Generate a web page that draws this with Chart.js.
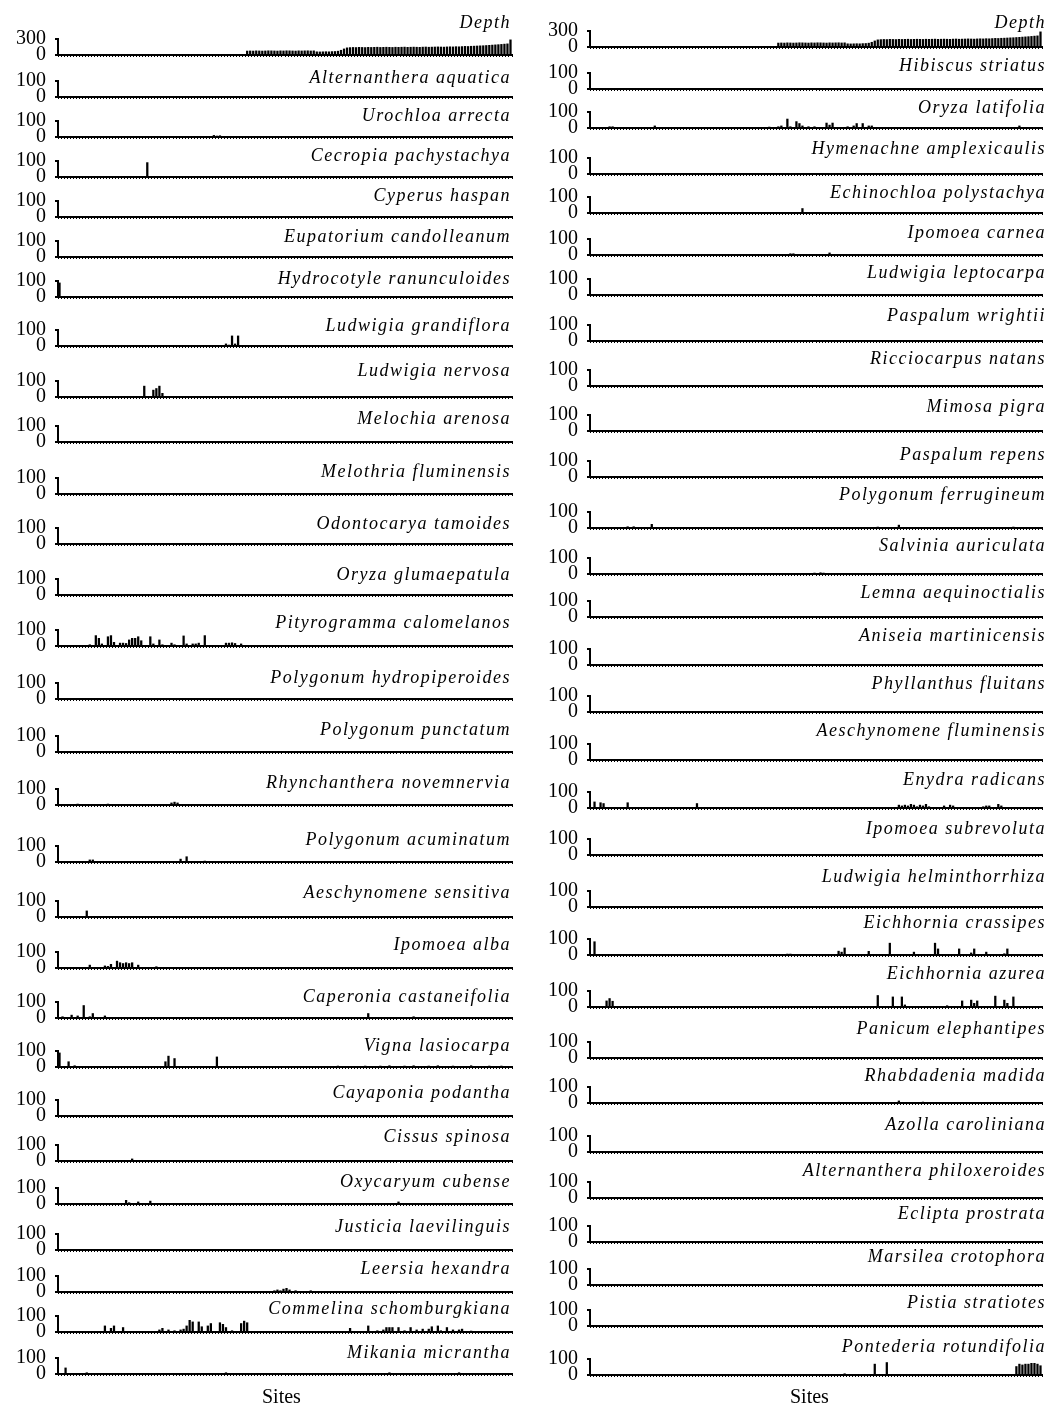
<!DOCTYPE html>
<html>
<head>
<meta charset="utf-8">
<script src="https://cdn.jsdelivr.net/npm/chart.js@4"></script>
<style>
  body { margin: 0; background: #fff; }
  #page { position: relative; width: 1052px; height: 1405px; overflow: hidden; background: #fff; }
  #page canvas { position: absolute; }
  .name { position: absolute; font-family: 'Liberation Serif', serif; font-style: italic; font-size: 18px;
          letter-spacing: 1.5px; line-height: 20px; white-space: nowrap; text-align: right; color: #000; }
  .sites { position: absolute; font-family: 'Liberation Serif', serif; font-size: 20px; line-height: 20px; color: #000; }
</style>
</head>
<body>
<div id="page"></div>
<script>
var nSites = 150;

// water depth (cm) at each site, sites ordered by depth
var depth = [
  0, 0, 0, 0, 0, 0, 0, 0, 0, 0, 0, 0, 0, 0, 0, 0, 0, 0, 0, 0,
  0, 0, 0, 0, 0, 0, 0, 0, 0, 0, 0, 0, 0, 0, 0, 0, 0, 0, 0, 0,
  0, 0, 0, 0, 0, 0, 0, 0, 0, 0, 0, 0, 0, 0, 0, 0, 0, 0, 0, 0,
  0, 0,
  80, 82, 80, 84, 82, 80, 82, 85, 84, 82, 80, 84, 82, 85, 84, 82, 80, 84, 82, 84, 85, 82, 84,
  66, 64, 66, 68, 66, 70, 72, 78,
  95, 120, 140,
  145, 148, 146, 150, 148, 146, 150, 148, 150, 152, 148, 150, 152, 150, 148, 152, 150, 152, 154, 150,
  152, 154, 152, 150, 154, 156, 152, 154, 156, 158, 156, 154, 158, 160, 158, 162, 160, 164, 168, 166,
  170, 172, 175, 178, 180, 184, 188, 192, 196, 200, 205, 210, 215,
  290
];

var leftSpecies = [
  'Alternanthera aquatica', 'Urochloa arrecta', 'Cecropia pachystachya', 'Cyperus haspan',
  'Eupatorium candolleanum', 'Hydrocotyle ranunculoides', 'Ludwigia grandiflora', 'Ludwigia nervosa',
  'Melochia arenosa', 'Melothria fluminensis', 'Odontocarya tamoides', 'Oryza glumaepatula',
  'Pityrogramma calomelanos', 'Polygonum hydropiperoides', 'Polygonum punctatum', 'Rhynchanthera novemnervia',
  'Polygonum acuminatum', 'Aeschynomene sensitiva', 'Ipomoea alba', 'Caperonia castaneifolia',
  'Vigna lasiocarpa', 'Cayaponia podantha', 'Cissus spinosa', 'Oxycaryum cubense',
  'Justicia laevilinguis', 'Leersia hexandra', 'Commelina schomburgkiana', 'Mikania micrantha'
];

// cover (%) per species as [site, value]; sites not listed are 0
var leftCover = [
  [],
  [[51, 12], [52, 8], [53, 10], [54, 6]],
  [[29, 92]],
  [],
  [[38, 5]],
  [[0, 90]],
  [[39, 3], [45, 5], [55, 15], [56, 8], [57, 65], [58, 15], [59, 65]],
  [[28, 70], [31, 45], [32, 55], [33, 70], [34, 25]],
  [[15, 5]],
  [[14, 4], [31, 4]],
  [],
  [],
  [[10, 10], [12, 67], [13, 50], [14, 15], [16, 60], [17, 67], [18, 25], [20, 20], [21, 20], [22, 18],
   [23, 40], [24, 50], [25, 50], [26, 60], [27, 35], [30, 60], [31, 15], [33, 40], [34, 10], [37, 20],
   [38, 10], [41, 65], [42, 15], [44, 15], [45, 15], [46, 20], [48, 67], [53, 5], [55, 20], [56, 20],
   [57, 22], [58, 18], [60, 15], [61, 5]],
  [[15, 4]],
  [[33, 3]],
  [[6, 8], [16, 8], [37, 15], [38, 20], [39, 15]],
  [[4, 5], [10, 15], [11, 15], [40, 20], [42, 35], [48, 8], [79, 3], [96, 3], [126, 3], [136, 3]],
  [[1, 5], [9, 40]],
  [[10, 20], [15, 15], [16, 12], [17, 25], [19, 45], [20, 35], [21, 30], [22, 35], [23, 30], [24, 35],
   [26, 20], [30, 5], [32, 10], [101, 5]],
  [[1, 10], [4, 20], [6, 15], [8, 80], [10, 10], [11, 30], [12, 5], [15, 15], [16, 5], [36, 5],
   [72, 3], [88, 3], [102, 30], [117, 10], [124, 5]],
  [[0, 90], [3, 35], [5, 10], [20, 3], [35, 35], [36, 70], [38, 55], [52, 65], [92, 8], [97, 5],
   [101, 8], [104, 5], [106, 8], [109, 10], [111, 5], [114, 8], [117, 10], [119, 5], [122, 8], [125, 10],
   [128, 5], [130, 8], [133, 5], [136, 10], [140, 5], [142, 8], [144, 5], [146, 8], [149, 5]],
  [[5, 5], [10, 5], [23, 5], [50, 5], [60, 3], [93, 3], [113, 3], [123, 5], [136, 3]],
  [[24, 15], [136, 3]],
  [[22, 25], [23, 10], [26, 15], [30, 20], [112, 15], [130, 5]],
  [[38, 5], [41, 5], [45, 5], [48, 5], [51, 5], [56, 5], [61, 5], [64, 5], [66, 5]],
  [[23, 5], [25, 5], [27, 5], [29, 5], [71, 10], [72, 15], [73, 10], [74, 20], [75, 25], [76, 15],
   [78, 10], [83, 10], [110, 5]],
  [[15, 40], [17, 25], [18, 40], [21, 30], [33, 15], [34, 25], [36, 15], [38, 10], [40, 15], [41, 20],
   [42, 40], [43, 75], [44, 65], [46, 65], [47, 35], [49, 40], [50, 55], [53, 60], [54, 50], [55, 30],
   [57, 10], [60, 55], [61, 70], [62, 60], [96, 25], [102, 40], [105, 10], [107, 15], [108, 30], [109, 30],
   [110, 30], [112, 30], [114, 10], [116, 30], [118, 15], [120, 20], [122, 20], [123, 35], [125, 40], [126, 10],
   [128, 30], [130, 15], [132, 15], [133, 20], [136, 8]],
  [[2, 40], [4, 5], [9, 10], [55, 10], [57, 5], [65, 3], [80, 3], [89, 3], [101, 5], [109, 10],
   [132, 10], [136, 5]]
];

var rightSpecies = [
  'Hibiscus striatus', 'Oryza latifolia', 'Hymenachne amplexicaulis', 'Echinochloa polystachya',
  'Ipomoea carnea', 'Ludwigia leptocarpa', 'Paspalum wrightii', 'Ricciocarpus natans',
  'Mimosa pigra', 'Paspalum repens', 'Polygonum ferrugineum', 'Salvinia auriculata',
  'Lemna aequinoctialis', 'Aniseia martinicensis', 'Phyllanthus fluitans', 'Aeschynomene fluminensis',
  'Enydra radicans', 'Ipomoea subrevoluta', 'Ludwigia helminthorrhiza', 'Eichhornia crassipes',
  'Eichhornia azurea', 'Panicum elephantipes', 'Rhabdadenia madida', 'Azolla caroliniana',
  'Alternanthera philoxeroides', 'Eclipta prostrata', 'Marsilea crotophora', 'Pistia stratiotes',
  'Pontederia rotundifolia'
];

var rightCover = [
  [],
  [[6, 10], [7, 10], [10, 5], [14, 5], [21, 15], [29, 3], [35, 3], [45, 5], [56, 3], [59, 8],
   [62, 10], [63, 15], [65, 58], [66, 10], [68, 42], [69, 30], [70, 15], [72, 10], [74, 10], [78, 33],
   [79, 20], [80, 33], [85, 10], [87, 15], [88, 30], [90, 30], [92, 15], [93, 15], [104, 5], [118, 5],
   [142, 15]],
  [[38, 5]],
  [[70, 30]],
  [[66, 10], [67, 10], [79, 15]],
  [[66, 5], [67, 5], [68, 5], [69, 5]],
  [],
  [[72, 3], [77, 3], [83, 3], [86, 3], [88, 3]],
  [],
  [],
  [[12, 10], [14, 10], [20, 25], [95, 8], [102, 20], [117, 5], [140, 8]],
  [[73, 5], [74, 8], [75, 5], [76, 10], [77, 8], [78, 5]],
  [],
  [[92, 5]],
  [],
  [[93, 5]],
  [[1, 40], [3, 35], [4, 30], [12, 35], [13, 5], [35, 30], [39, 3], [97, 5], [102, 20], [103, 15],
   [104, 20], [105, 15], [106, 25], [107, 20], [108, 10], [109, 20], [110, 15], [111, 25], [112, 10], [117, 15],
   [119, 20], [120, 15], [130, 10], [131, 15], [132, 15], [135, 25], [136, 15]],
  [],
  [[66, 3], [91, 3], [114, 3]],
  [[1, 85], [64, 5], [65, 8], [66, 8], [67, 5], [82, 26], [83, 20], [84, 46], [92, 25], [93, 5],
   [99, 76], [107, 20], [111, 5], [114, 76], [115, 40], [119, 5], [122, 40], [126, 15], [127, 40], [131, 20],
   [137, 10], [138, 40], [147, 5], [149, 5]],
  [[5, 40], [6, 55], [7, 38], [8, 5], [95, 74], [100, 65], [103, 65], [104, 15], [118, 10], [123, 40],
   [126, 45], [127, 25], [128, 40], [134, 70], [137, 45], [138, 25], [140, 65]],
  [[12, 3]],
  [[102, 15], [110, 8], [111, 5], [118, 5]],
  [[95, 3], [118, 3]],
  [],
  [],
  [],
  [[94, 3], [115, 3], [122, 3], [127, 3], [137, 3], [142, 5], [144, 5], [146, 5], [147, 3]],
  [[84, 10], [94, 70], [98, 80], [141, 55], [142, 70], [143, 65], [144, 70], [145, 70], [146, 75],
   [147, 75], [148, 70], [149, 60]]
];

// page layout: y of each panel's zero line and of its name, Depth panel first
var leftBase = [55, 97, 137, 177, 217, 257, 297, 346, 397, 442, 494, 544, 595, 646, 699,
                752, 805, 862, 917, 968, 1018, 1067, 1116, 1161, 1204, 1250, 1292, 1332, 1374];
var leftNameY = [22, 77, 115, 155, 195, 236, 278, 325, 370, 418, 471, 523, 574, 622, 677,
                 729, 782, 839, 892, 944, 996, 1045, 1092, 1136, 1181, 1226, 1268, 1308, 1352];
var rightBase = [47, 89, 128, 174, 213, 255, 295, 341, 386, 431, 477, 528, 574, 617, 665,
                 712, 760, 808, 855, 907, 955, 1007, 1058, 1103, 1152, 1198, 1242, 1285, 1326, 1375];
var rightNameY = [22, 65, 107, 148, 192, 232, 272, 315, 358, 406, 454, 494, 545, 592, 635,
                  683, 730, 779, 828, 876, 922, 973, 1028, 1075, 1124, 1170, 1213, 1256, 1302, 1346];

var page = document.getElementById('page');
var siteLabels = [];
for (var i = 0; i < nSites; i++) siteLabels.push(String(i + 1));

var columns = [
  { left: 0, width: 520, axisW: 58, padR: 8, nameRight: 511, sitesX: 283 },
  { left: 530, width: 522, axisW: 60, padR: 10, nameRight: 1046, sitesX: 811 }
];

function toSeries(pairs) {
  var vals = [];
  for (var i = 0; i < nSites; i++) vals.push(0);
  pairs.forEach(function (p) { vals[p[0]] = p[1]; });
  return vals;
}

function addName(text, col, y) {
  var d = document.createElement('div');
  d.className = 'name';
  d.textContent = text;
  d.style.right = (1052 - col.nameRight) + 'px';
  d.style.top = (y - 10) + 'px';
  page.appendChild(d);
}

function drawPanel(col, values, maxY, base) {
  var c = document.createElement('canvas');
  c.width = col.width;
  c.height = 46;
  c.style.left = col.left + 'px';
  c.style.top = (base - 31) + 'px';
  page.appendChild(c);

  new Chart(c, {
    type: 'bar',
    data: {
      labels: siteLabels,
      datasets: [{
        data: values,
        backgroundColor: '#000',
        borderWidth: 0,
        barPercentage: 0.75,
        categoryPercentage: 1
      }]
    },
    options: {
      responsive: false,
      animation: false,
      events: [],
      layout: { padding: { top: 15, bottom: 11, left: 0, right: col.padR } },
      plugins: { legend: { display: false }, tooltip: { enabled: false } },
      scales: {
        x: {
          grid: { drawOnChartArea: false, tickLength: 2, color: '#000', lineWidth: 1 },
          border: { color: '#000', width: 2 },
          ticks: { display: false },
          afterFit: function (s) { s.height = 4; }
        },
        y: {
          min: 0,
          max: maxY,
          grid: { drawOnChartArea: false, tickLength: 3, color: '#000', lineWidth: 2 },
          border: { color: '#000', width: 2 },
          ticks: {
            stepSize: maxY,
            autoSkip: false,
            padding: 9,
            color: '#000',
            font: { family: 'Liberation Serif', size: 20 }
          },
          afterFit: function (s) { s.width = col.axisW; s.paddingTop = 0; s.paddingBottom = 0; }
        }
      }
    }
  });
}

function drawColumn(col, species, cover, bases, nameYs) {
  drawPanel(col, depth, 300, bases[0]);
  addName('Depth', col, nameYs[0]);
  species.forEach(function (name, k) {
    drawPanel(col, toSeries(cover[k]), 100, bases[k + 1]);
    addName(name, col, nameYs[k + 1]);
  });
  var s = document.createElement('div');
  s.className = 'sites';
  s.textContent = 'Sites';
  s.style.left = (col.sitesX - 21) + 'px';
  s.style.top = '1386px';
  page.appendChild(s);
}

drawColumn(columns[0], leftSpecies, leftCover, leftBase, leftNameY);
drawColumn(columns[1], rightSpecies, rightCover, rightBase, rightNameY);
</script>
</body>
</html>
